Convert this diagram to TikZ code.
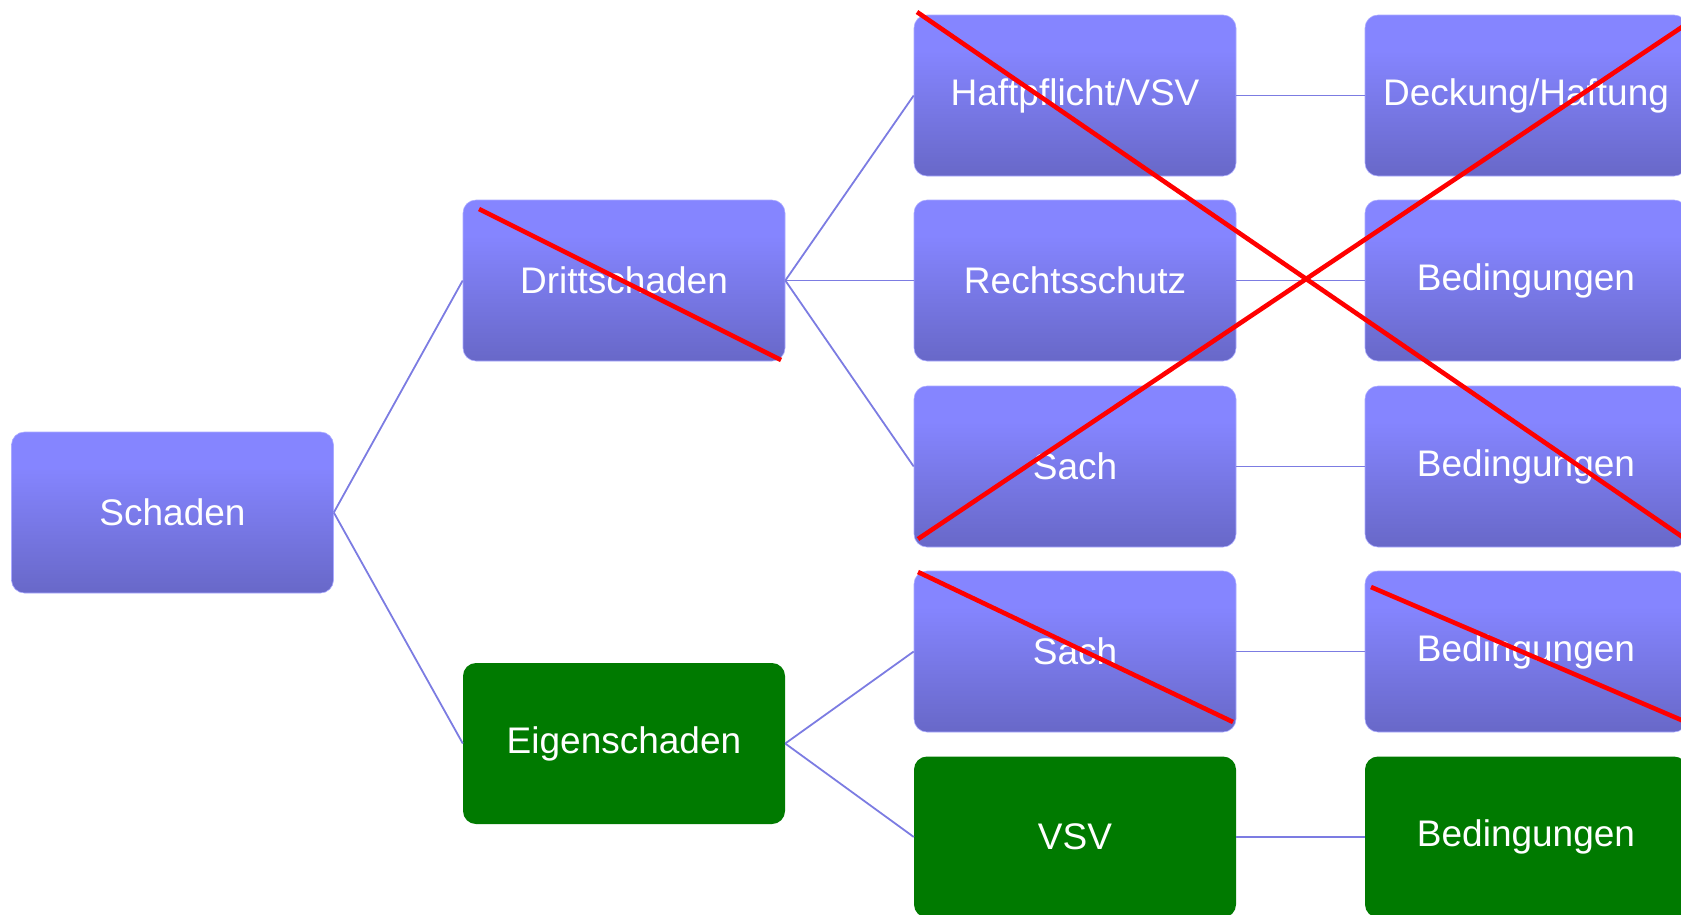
\documentclass[tikz,border=0pt]{standalone}
\usepackage{fontspec}
\setmainfont{Liberation Sans}
\definecolor{topc}{RGB}{133,133,255}
\definecolor{botc}{RGB}{104,104,200}
\definecolor{linec}{RGB}{124,124,226}
\definecolor{greenc}{RGB}{0,122,0}
\definecolor{redc}{RGB}{255,0,0}
\pgfdeclareverticalshading{boxshade}{100bp}{color(0bp)=(botc); color(25bp)=(botc); color(64bp)=(topc); color(100bp)=(topc)}
\tikzset{
  box/.style={rectangle, rounded corners=13pt, minimum width=322pt, minimum height=161pt,
    inner sep=0pt, text=white, font=\fontsize{37}{44}\selectfont},
  bluebox/.style={box, shading=boxshade, draw=topc!70!white, line width=0.6pt},
  greenbox/.style={box, fill=greenc},
  conn/.style={draw=linec, line width=1.8pt},
  cross/.style={draw=redc, line width=4.6pt}
}
\begin{document}
\begin{tikzpicture}[x=1pt,y=-1pt]
\useasboundingbox (0,0) rectangle (1681,914);
\clip (0,0) rectangle (1681,914);
% nodes
\node[bluebox] (schaden) at (172.5,512.5) {Schaden};
\node[bluebox] (dritt) at (624,280.5) {Drittschaden};
\node[greenbox] (eigen) at (624,743.5) {Eigenschaden};
\node[bluebox] (haft) at (1075,95.5) {Haftpflicht/VSV};
\node[bluebox] (recht) at (1075,280.5) {Rechtsschutz};
\node[bluebox] (sachA) at (1075,466.5) {Sach};
\node[bluebox] (sachB) at (1075,651.5) {Sach};
\node[greenbox] (vsv) at (1075,837) {VSV};
\node[bluebox] (deck) at (1526,95.5) {Deckung/Haftung};
\node[bluebox] (bedA) at (1526,280.5) {Bedingungen};
\node[bluebox] (bedB) at (1526,466.5) {Bedingungen};
\node[bluebox] (bedC) at (1526,651.5) {Bedingungen};
\node[greenbox] (bedD) at (1526,837) {Bedingungen};
% connectors
\draw[conn] (schaden.east) -- (dritt.west);
\draw[conn] (schaden.east) -- (eigen.west);
\draw[conn] (dritt.east) -- (haft.west);
\draw[conn] (dritt.east) -- (recht.west);
\draw[conn] (dritt.east) -- (sachA.west);
\draw[conn] (eigen.east) -- (sachB.west);
\draw[conn] (eigen.east) -- (vsv.west);
\draw[conn] (haft.east) -- (deck.west);
\draw[conn] (recht.east) -- (bedA.west);
\draw[conn] (sachA.east) -- (bedB.west);
\draw[conn] (sachB.east) -- (bedC.west);
\draw[conn] (vsv.east) -- (bedD.west);
% red crossings
\coordinate (d1) at (479,209);
\coordinate (d2) at (781,360);
\coordinate (xa1) at (917,12);
\coordinate (xa2) at (1700,549);
\coordinate (xb1) at (918,539);
\coordinate (xb2) at (1700,15);
\coordinate (s1) at (918,572);
\coordinate (s2) at (1233,722);
\coordinate (b1) at (1371,587);
\coordinate (b2) at (1700,728);
\draw[cross] (d1) -- (d2);
\draw[cross] (xa1) -- (xa2);
\draw[cross] (xb1) -- (xb2);
\draw[cross] (s1) -- (s2);
\draw[cross] (b1) -- (b2);
\end{tikzpicture}
\end{document}
